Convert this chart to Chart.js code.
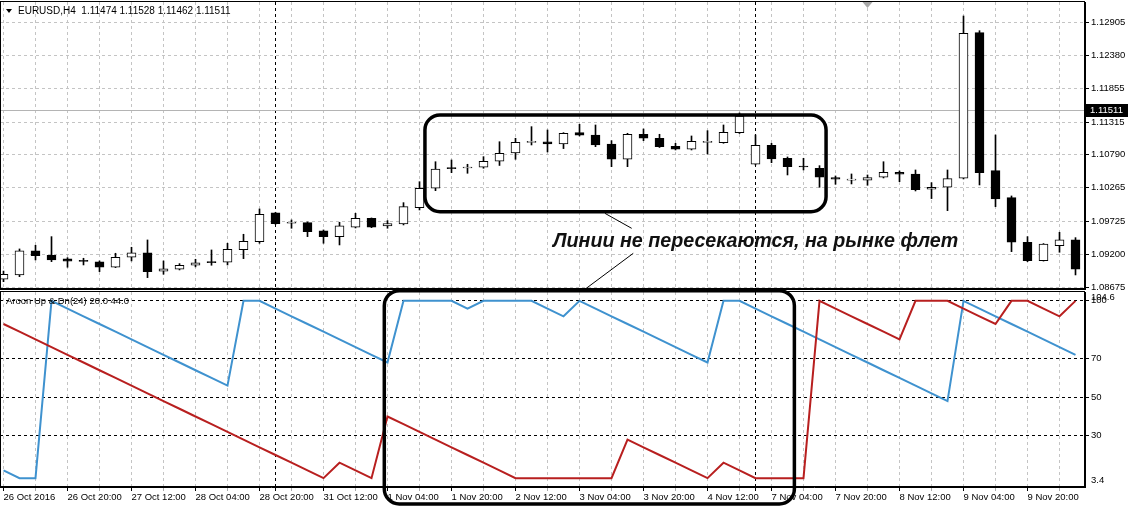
<!DOCTYPE html>
<html>
<head>
<meta charset="utf-8">
<title>EURUSD H4 + Aroon</title>
<script src="https://cdn.jsdelivr.net/npm/chart.js@4/dist/chart.umd.min.js"></script>
<style>
  html, body { margin: 0; padding: 0; background: #fff; }
  #wrap { position: relative; width: 1129px; height: 509px; overflow: hidden; background: #fff; }
  #priceBox { position: absolute; left: 0; top: 0; width: 1129px; height: 290px; }
  #aroonBox { position: absolute; left: 0; top: 290px; width: 1129px; height: 219px; }
</style>
</head>
<body>
<div id="wrap">
  <div id="priceBox"><canvas id="priceChart"></canvas></div>
  <div id="aroonBox"><canvas id="aroonChart"></canvas></div>
</div>
<script>
// === EURUSD,H4 candles + Aroon Up & Dn(24) ===

// === Candles (26 Oct 04:00 .. 10 Nov 08:00) ===
const openP = [
  1.08799, 1.08868, 1.09252, 1.09183, 1.09124, 1.09090, 1.09076, 1.08991, 1.09151, 1.09220,
  1.08927, 1.08959, 1.09023, 1.09081, 1.09071, 1.09273, 1.09401, 1.09860, 1.09695, 1.09705,
  1.09572, 1.09481, 1.09631, 1.09775, 1.09652, 1.09684, 1.09945, 1.10255, 1.10572, 1.10580,
  1.10591, 1.10687, 1.10820, 1.10990, 1.11000, 1.10964, 1.11145, 1.11108, 1.10964, 1.10719,
  1.11119, 1.11055, 1.10927, 1.10879, 1.10990, 1.10985, 1.11145, 1.10640, 1.10943, 1.10735,
  1.10601, 1.10575, 1.10425, 1.10385, 1.10383, 1.10431, 1.10511, 1.10484, 1.10239, 1.10271,
  1.10415, 1.12745, 1.10537, 1.10105, 1.09391, 1.09097, 1.09337, 1.09428
];
const highP = [
  1.08930, 1.09284, 1.09343, 1.09481, 1.09145, 1.09135, 1.09092, 1.09215, 1.09311, 1.09428,
  1.09092, 1.09049, 1.09119, 1.09268, 1.09375, 1.09519, 1.09924, 1.09871, 1.09748, 1.09716,
  1.09588, 1.09711, 1.09855, 1.09780, 1.09737, 1.10025, 1.10360, 1.10680, 1.10708, 1.10639,
  1.10761, 1.11000, 1.11055, 1.11241, 1.11188, 1.11145, 1.11279, 1.11268, 1.11017, 1.11135,
  1.11204, 1.11119, 1.10975, 1.11092, 1.11177, 1.11268, 1.11460, 1.11108, 1.10975, 1.10756,
  1.10735, 1.10617, 1.10452, 1.10484, 1.10468, 1.10680, 1.10532, 1.10548, 1.10345, 1.10548,
  1.13012, 1.12777, 1.11108, 1.10132, 1.09481, 1.09370, 1.09551, 1.09465
];
const lowP = [
  1.08760, 1.08841, 1.09108, 1.09081, 1.08991, 1.09028, 1.08921, 1.08985, 1.09092, 1.08825,
  1.08879, 1.08948, 1.08997, 1.09023, 1.09028, 1.09129, 1.09375, 1.09679, 1.09615, 1.09481,
  1.09375, 1.09348, 1.09620, 1.09625, 1.09615, 1.09668, 1.09908, 1.10217, 1.10505, 1.10495,
  1.10575, 1.10620, 1.10719, 1.10948, 1.10836, 1.10890, 1.11092, 1.10921, 1.10601, 1.10601,
  1.11017, 1.10908, 1.10868, 1.10868, 1.10804, 1.10975, 1.11132, 1.10628, 1.10665, 1.10468,
  1.10548, 1.10271, 1.10319, 1.10324, 1.10303, 1.10420, 1.10361, 1.10212, 1.10090, 1.09897,
  1.10404, 1.10308, 1.09961, 1.09241, 1.09081, 1.09090, 1.09231, 1.08868
];
const closeP = [
  1.08879, 1.09252, 1.09177, 1.09108, 1.09087, 1.09085, 1.08991, 1.09151, 1.09220, 1.08921,
  1.08964, 1.09023, 1.09060, 1.09065, 1.09279, 1.09407, 1.09839, 1.09689, 1.09700, 1.09561,
  1.09481, 1.09652, 1.09775, 1.09631, 1.09689, 1.09961, 1.10255, 1.10564, 1.10570, 1.10585,
  1.10687, 1.10815, 1.10991, 1.10995, 1.10964, 1.11135, 1.11103, 1.10948, 1.10719, 1.11119,
  1.11055, 1.10921, 1.10879, 1.11007, 1.10995, 1.11151, 1.11412, 1.10943, 1.10724, 1.10601,
  1.10596, 1.10431, 1.10399, 1.10388, 1.10425, 1.10511, 1.10479, 1.10233, 1.10271, 1.10409,
  1.12735, 1.10505, 1.10084, 1.09391, 1.09097, 1.09360, 1.09428, 1.08959
];
const priceTicks = [1.12905, 1.12380, 1.11855, 1.11315, 1.10790, 1.10265, 1.09725, 1.09200, 1.08675];
const lastPrice = 1.11511;
const headerText = "EURUSD,H4  1.11474 1.11528 1.11462 1.11511";

// === Aroon Up & Dn(24) ===
const aroonUp = [
  12, 8, 8, 100, 96, 92, 88, 84, 80, 76, 72, 68, 64, 60, 56, 100, 100, 96, 92, 88,
  84, 80, 76, 72, 68, 100, 100, 100, 100, 96, 100, 100, 100, 100, 96, 92, 100, 96, 92, 88,
  84, 80, 76, 72, 68, 100, 100, 96, 92, 88, 84, 80, 76, 72, 68, 64, 60, 56, 52, 48,
  100, 96, 92, 88, 84, 80, 76, 72
];
const aroonDown = [
  88, 84, 80, 76, 72, 68, 64, 60, 56, 52, 48, 44, 40, 36, 32, 28, 24, 20, 16, 12,
  8, 16, 12, 8, 40, 36, 32, 28, 24, 20, 16, 12, 8, 8, 8, 8, 8, 8, 8, 28,
  24, 20, 16, 12, 8, 16, 12, 8, 8, 8, 8, 100, 96, 92, 88, 84, 80, 100, 100, 100,
  96, 92, 88, 100, 100, 96, 92, 100
];
const aroonLevels = [100, 70, 50, 30];
const aroonMax = 104.6;
const aroonMin = 3.4;
const aroonTitle = "Aroon Up & Dn(24) 20.0 44.0";

// === Time axis ===
const timeLabels = [
  "26 Oct 2016", "26 Oct 20:00", "27 Oct 12:00", "28 Oct 04:00", "28 Oct 20:00",
  "31 Oct 12:00", "1 Nov 04:00", "1 Nov 20:00", "2 Nov 12:00", "3 Nov 04:00",
  "3 Nov 20:00", "4 Nov 12:00", "7 Nov 04:00", "7 Nov 20:00", "8 Nov 12:00",
  "9 Nov 04:00", "9 Nov 20:00"
];
const labelStep = 4;        // one time label every 4 bars
const weekStarts = [17, 47]; // period separators (Monday 00:00)

// === Note drawn on the chart ===
const noteText = "Линии не пересекаются, на рынке флет";
const note = {
  textAt: [34.34, 1.09321],
  priceBox: [26.34, 1.11428, 51.41, 1.09881],
  lineUp: [37.59, 1.09854, 39.26, 1.09614],
  lineDown: [39.36, 1.09214, 36.34, 1.08638],
  aroonBox: [23.8, 105.27, 49.43, -5.38],
  shiftMark: 54
};

// === Shared bits ===
const FONT = "Liberation Sans";
const GRID_GRAY = "#c4c4c4";
const bars = openP.map((_, i) => i);
const xTickValues = bars.filter((i) => i % 2 === 0).concat(weekStarts).sort((a, b) => a - b);

// no extra room for labels that hang over the plot edges
function noPad(s) {
  s.paddingTop = 0;
  s.paddingBottom = 0;
  s.paddingLeft = 0;
  s.paddingRight = 0;
}

function xAxis(showLabels) {
  return {
    type: "linear",
    min: -0.21875,
    max: 67.59375,
    offset: false,
    afterBuildTicks: (s) => { s.ticks = xTickValues.map((v) => ({ value: v })); },
    afterFit: (s) => { s.height = showLabels ? 22 : 0; noPad(s); },
    grid: {
      offset: false,
      color: (c) => (c.tick && weekStarts.includes(c.tick.value) ? "#000" : GRID_GRAY),
      drawTicks: showLabels,
      tickLength: 4,
      tickColor: (c) =>
        c.tick && (c.tick.value % labelStep === 0 || weekStarts.includes(c.tick.value)) ? "#000" : "#aaa",
    },
    border: { display: true, color: "#000", width: 1, dash: [3, 3] },
    ticks: {
      display: showLabels,
      autoSkip: false,
      maxRotation: 0,
      minRotation: 0,
      align: "start",
      padding: 1,
      color: "#000",
      font: { family: FONT, size: 9.5 },
      callback: (v) => (v % labelStep === 0 && timeLabels[v / labelStep]) ? timeLabels[v / labelStep] : "",
    },
  };
}

function roundBox(ctx, x1, y1, x2, y2, r) {
  ctx.beginPath();
  ctx.roundRect(Math.min(x1, x2), Math.min(y1, y2), Math.abs(x2 - x1), Math.abs(y2 - y1), r);
  ctx.stroke();
}

// === Price panel plugin ===
const pricePlugin = {
  id: "pricePlugin",
  beforeDatasetsDraw(chart) {
    const { ctx, chartArea: a, scales: { y } } = chart;
    const py = Math.round(y.getPixelForValue(lastPrice)) + 0.5;
    ctx.save();
    ctx.strokeStyle = "#b4b4b4";
    ctx.lineWidth = 1;
    ctx.beginPath();
    ctx.moveTo(a.left, py);
    ctx.lineTo(a.right, py);
    ctx.stroke();
    ctx.restore();
  },
  afterDraw(chart) {
    const { ctx, chartArea: a, scales: { x, y } } = chart;
    ctx.save();
    // frame
    ctx.strokeStyle = "#000";
    ctx.lineWidth = 1;
    ctx.strokeRect(a.left + 0.5, a.top - 0.5, a.right - a.left - 1, a.bottom - a.top);

    // header
    ctx.fillStyle = "#000";
    ctx.beginPath();
    ctx.moveTo(6, 9); ctx.lineTo(12, 9); ctx.lineTo(9, 13); ctx.closePath();
    ctx.fill();
    ctx.font = "10px " + FONT;
    ctx.textBaseline = "middle";
    ctx.fillText(headerText, 18, 11);

    // shift marker
    const sx = x.getPixelForValue(note.shiftMark);
    ctx.fillStyle = "#a8a8a8";
    ctx.beginPath();
    ctx.moveTo(sx - 5, a.top); ctx.lineTo(sx + 5, a.top); ctx.lineTo(sx, a.top + 6); ctx.closePath();
    ctx.fill();

    // annotation box + note
    const b = note.priceBox;
    ctx.strokeStyle = "#000";
    ctx.lineWidth = 3.5;
    roundBox(ctx, x.getPixelForValue(b[0]), y.getPixelForValue(b[1]), x.getPixelForValue(b[2]), y.getPixelForValue(b[3]), 15);

    ctx.lineWidth = 1;
    [note.lineUp, note.lineDown].forEach((l) => {
      ctx.beginPath();
      ctx.moveTo(x.getPixelForValue(l[0]), y.getPixelForValue(l[1]));
      ctx.lineTo(x.getPixelForValue(l[2]), y.getPixelForValue(l[3]));
      ctx.stroke();
    });

    ctx.fillStyle = "#111";
    ctx.font = "italic bold 19.7px " + FONT;
    ctx.textBaseline = "alphabetic";
    ctx.fillText(noteText, x.getPixelForValue(note.textAt[0]), y.getPixelForValue(note.textAt[1]));

    // last price label
    const py = Math.round(y.getPixelForValue(lastPrice));
    ctx.fillStyle = "#000";
    ctx.fillRect(a.right + 1, py - 6, 42, 13);
    ctx.fillStyle = "#fff";
    ctx.font = "9.5px " + FONT;
    ctx.textBaseline = "middle";
    ctx.fillText(lastPrice.toFixed(5), a.right + 5, py + 0.5);
    ctx.restore();
  },
};

// === Aroon panel plugin ===
const aroonPlugin = {
  id: "aroonPlugin",
  afterDraw(chart) {
    const { ctx, chartArea: a, scales: { x, y } } = chart;
    ctx.save();
    ctx.strokeStyle = "#000";
    ctx.lineWidth = 1;
    ctx.strokeRect(a.left + 0.5, a.top - 0.5, a.right - a.left - 1, a.bottom - a.top);

    ctx.fillStyle = "#000";
    ctx.font = "9.5px " + FONT;
    ctx.textBaseline = "middle";
    ctx.fillText(aroonTitle, a.left + 6, a.top + 9);
    ctx.fillText(String(aroonMax), a.right + 6, a.top + 5);
    ctx.fillText(String(aroonMin), a.right + 6, a.bottom - 7);

    const b = note.aroonBox;
    ctx.lineWidth = 3.5;
    roundBox(ctx, x.getPixelForValue(b[0]), y.getPixelForValue(b[1]), x.getPixelForValue(b[2]), y.getPixelForValue(b[3]), 15);
    ctx.restore();
  },
};

// === Price chart ===
const wickData = bars.map((i) => ({ x: i, y: [lowP[i], highP[i]] }));
const bodyData = bars.map((i) => ({ x: i, y: [Math.min(openP[i], closeP[i]), Math.max(openP[i], closeP[i])] }));
const bodyFill = bars.map((i) => (closeP[i] > openP[i] ? "#ffffff" : "#000000"));

new Chart(document.getElementById("priceChart"), {
  type: "bar",
  data: {
    datasets: [
      { data: bodyData, backgroundColor: bodyFill, borderColor: "#000", borderWidth: 1, borderSkipped: false,
        barThickness: 9, minBarLength: 1, grouped: false, order: 1 },
      { data: wickData, backgroundColor: "#000", borderWidth: 0, barThickness: 1, grouped: false, order: 2 },
    ],
  },
  options: {
    responsive: true,
    maintainAspectRatio: false,
    animation: false,
    devicePixelRatio: 1,
    events: [],
    layout: { padding: { top: 2, bottom: 1, left: 0, right: 0 } },
    plugins: { legend: { display: false }, tooltip: { enabled: false } },
    scales: {
      x: xAxis(false),
      y: {
        position: "right",
        min: 1.08643,
        max: 1.13236,
        afterBuildTicks: (s) => { s.ticks = priceTicks.map((v) => ({ value: v })); },
        afterFit: (s) => { s.width = 44; noPad(s); },
        grid: { color: GRID_GRAY, tickColor: "#000", tickLength: 4 },
        border: { color: "#000", dash: [3, 3] },
        ticks: { autoSkip: false, color: "#000", padding: 2, font: { family: FONT, size: 9.5 }, callback: (v) => v.toFixed(5) },
      },
    },
  },
  plugins: [pricePlugin],
});

// === Aroon chart ===
new Chart(document.getElementById("aroonChart"), {
  type: "line",
  data: {
    datasets: [
      { label: "Aroon Up", data: bars.map((i) => ({ x: i, y: aroonUp[i] })), borderColor: "#3f92cf",
        borderWidth: 2, pointRadius: 0, tension: 0, order: 2 },
      { label: "Aroon Down", data: bars.map((i) => ({ x: i, y: aroonDown[i] })), borderColor: "#b81f1f",
        borderWidth: 2, pointRadius: 0, tension: 0, order: 1 },
    ],
  },
  options: {
    responsive: true,
    maintainAspectRatio: false,
    animation: false,
    devicePixelRatio: 1,
    events: [],
    layout: { padding: { top: 2, bottom: 0, left: 0, right: 0 } },
    plugins: { legend: { display: false }, tooltip: { enabled: false } },
    scales: {
      x: xAxis(true),
      y: {
        position: "right",
        min: aroonMin,
        max: aroonMax,
        afterBuildTicks: (s) => { s.ticks = aroonLevels.map((v) => ({ value: v })); },
        afterFit: (s) => { s.width = 44; noPad(s); },
        grid: { color: "#000", tickColor: "#000", tickLength: 4 },
        border: { color: "#000", dash: [3, 3] },
        ticks: { autoSkip: false, color: "#000", padding: 2, font: { family: FONT, size: 9.5 }, callback: (v) => String(v) },
      },
    },
  },
  plugins: [aroonPlugin],
});
</script>
</body>
</html>
